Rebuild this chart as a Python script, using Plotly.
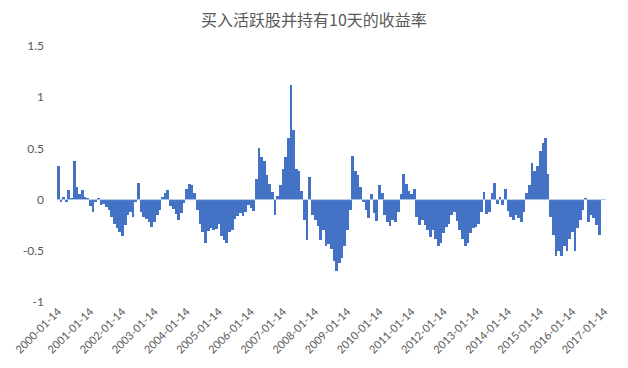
import pandas as pd
import plotly.graph_objects as go

# Monthly return readings (mid-month), Jan 2000 .. Nov 2016
returns = [
    0.33, -0.02, 0.03, -0.02, 0.09, 0.02, 0.38, 0.12, 0.05, 0.09, 0.03, 0.01,          # 2000
    -0.06, -0.12, -0.02, 0.02, -0.05, -0.04, -0.07, -0.10, -0.17, -0.24, -0.28, -0.32, # 2001
    -0.36, -0.25, -0.15, -0.12, -0.17, -0.02, 0.16, -0.12, -0.17, -0.19, -0.22, -0.27, # 2002
    -0.22, -0.15, -0.10, 0.03, 0.06, 0.09, -0.06, -0.09, -0.14, -0.20, -0.13, -0.03,   # 2003
    0.10, 0.15, 0.14, 0.06, -0.10, -0.24, -0.32, -0.42, -0.31, -0.28, -0.30, -0.29,    # 2004
    -0.24, -0.36, -0.39, -0.42, -0.32, -0.30, -0.19, -0.16, -0.13, -0.16, -0.12, -0.05,# 2005
    -0.08, -0.11, 0.20, 0.50, 0.42, 0.38, 0.24, 0.15, 0.07, -0.15, 0.04, 0.14,        # 2006
    0.30, 0.42, 0.60, 1.12, 0.68, 0.30, 0.28, 0.08, -0.20, -0.39, 0.22, -0.15,        # 2007
    -0.20, -0.26, -0.39, -0.30, -0.45, -0.43, -0.48, -0.60, -0.70, -0.62, -0.57, -0.45,# 2008
    -0.30, -0.10, 0.43, 0.28, 0.24, 0.12, -0.02, -0.10, -0.18, 0.05, -0.13, -0.21,    # 2009
    0.14, 0.06, -0.15, -0.22, -0.26, -0.20, -0.22, -0.12, 0.05, 0.25, 0.15, 0.08,     # 2010
    0.05, 0.10, -0.17, -0.25, -0.20, -0.25, -0.30, -0.37, -0.30, -0.38, -0.45, -0.42, # 2011
    -0.33, -0.27, -0.24, -0.15, -0.12, -0.21, -0.30, -0.38, -0.45, -0.42, -0.33, -0.28,# 2012
    -0.27, -0.24, -0.12, 0.07, -0.14, -0.12, 0.06, 0.16, -0.04, 0.03, -0.05, 0.10,    # 2013
    -0.11, -0.17, -0.20, -0.15, -0.18, -0.22, -0.12, 0.06, 0.14, 0.36, 0.28, 0.33,    # 2014
    0.47, 0.55, 0.60, 0.25, -0.17, -0.35, -0.55, -0.50, -0.55, -0.45, -0.50, -0.38,   # 2015
    -0.32, -0.50, -0.28, -0.20, -0.10, 0.02, -0.22, -0.15, -0.18, -0.25, -0.35,       # 2016
]
dates = pd.date_range(start="2000-01-14", periods=len(returns), freq=pd.DateOffset(months=1))

tick_dates = [f"{y}-01-14" for y in range(2000, 2018)]
tick_labels = [f"{y}-01-14" for y in range(2000, 2018)]
y_ticks = [-1, -0.5, 0, 0.5, 1, 1.5]
y_tick_labels = ["-1", "-0.5", "0", "0.5", "1", "1.5"]

title_text = "买入活跃股并持有10天的收益率"

fig = go.Figure()
fig.add_trace(go.Bar(
    x=dates, y=returns,
    width=31 * 86400000,
    marker=dict(color="#4472C4", line=dict(width=0)),
    hoverinfo="x+y",
))

fig.update_layout(
    width=628, height=368,
    margin=dict(l=54, r=22, t=46, b=66),
    paper_bgcolor="white", plot_bgcolor="white",
    showlegend=False,
    bargap=0,
    title=dict(
        text=title_text,
        x=0.5, xanchor="center",
        y=1 - 20 / 368, yanchor="middle", yref="container",
        font=dict(family="Noto Sans CJK SC", size=16, color="#595959"),
    ),
    font=dict(family="Lato, Carlito, sans-serif", size=12, color="#595959"),
    shapes=[dict(type="line", xref="paper", x0=0, x1=1, yref="y", y0=0, y1=0,
                 line=dict(color="#B4C7E7", width=1), layer="above")],
)
fig.update_xaxes(
    type="date",
    range=["2000-01-01", "2017-01-31"],
    tickmode="array", tickvals=tick_dates, ticktext=tick_labels,
    tickangle=-45, showgrid=False, zeroline=False, showline=False, ticks="",
    tickfont=dict(size=11, color="#595959"),
)
fig.update_yaxes(
    range=[-1, 1.5],
    tickmode="array", tickvals=y_ticks, ticktext=y_tick_labels,
    showgrid=False, zeroline=False, showline=False, ticks="",
    ticklabelstandoff=12,
    tickfont=dict(size=12, color="#595959"),
)

fig.write_html("out.html")
